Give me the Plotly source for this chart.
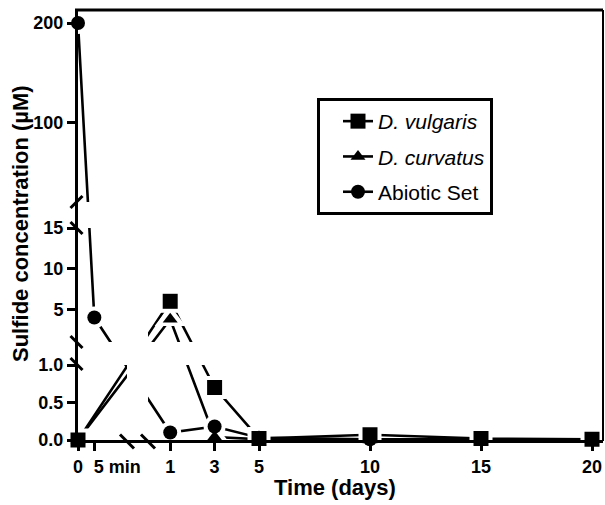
import plotly.graph_objects as go

# ---------------- data ----------------
x_tick_days = [0, 5 / 1440, 1, 3, 5, 10, 15, 20]
x_tick_text = ["0", "5 min", "1", "3", "5", "10", "15", "20"]

y_tick_vals = [0, 0.5, 1.0, 5, 10, 15, 100, 200]
y_tick_text = ["0.0", "0.5", "1.0", "5", "10", "15", "100", "200"]

vulgaris_t = [0, 1, 3, 5, 10, 15, 20]
vulgaris_y = [0.0, 6.0, 0.70, 0.02, 0.07, 0.02, 0.01]

curvatus_t = [0, 1, 3, 5, 10, 15, 20]
curvatus_y = [0.0, 3.8, 0.04, 0.01, 0.0, 0.01, 0.01]

abiotic_t = [0, 5 / 1440, 1, 3, 5, 10, 15, 20]
abiotic_y = [200, 4.0, 0.10, 0.18, 0.03, 0.01, 0.01, 0.01]

series_names = ["<i>D. vulgaris</i>", "<i>D. curvatus</i>", "Abiotic Set"]

# ---------------- broken-axis layout (display units = px inside plot) ----------------
PW, PH = 525, 430          # plot area size
ML, MT = 78, 10
MB = 505 - MT - PH
MR = 605 - ML - PW

# (data_lo, data_hi, display_lo, display_hi)
X_SEGS = [(0, 15 / 1440, 0, 49), (0, 20, 70, 514)]
Y_SEGS = [(0, 1, 0, 75), (1, 15, 98, 212), (20, 200, 238, 417)]


def seg_map(v, segs):
    for lo, hi, a, b in segs:
        if lo <= v <= hi:
            return a + (v - lo) / (hi - lo) * (b - a)
    lo, hi, a, b = segs[-1]
    return a + (v - lo) / (hi - lo) * (b - a)


def xs(ts):
    return [seg_map(t, X_SEGS) for t in ts]


def ys(vs):
    return [seg_map(v, Y_SEGS) for v in vs]


def px(u):
    return u / PW


def py(v):
    return v / PH


series = [
    (vulgaris_t, vulgaris_y, "square", 15, 23),
    (curvatus_t, curvatus_y, "triangle-up", 13, 27),
    (abiotic_t, abiotic_y, "circle", 14, 22),
]

fig = go.Figure()

# line traces (shown in legend)
for i, (t, v, sym, sz, hz) in enumerate(series):
    fig.add_trace(go.Scatter(
        x=xs(t), y=ys(v), mode="lines+markers", name=series_names[i],
        legendgroup=str(i),
        line=dict(color="black", width=2.6),
        marker=dict(symbol=sym, size=sz, color="black"),
        cliponaxis=False, hoverinfo="skip"))

# white halos around markers (gap between line and marker)
for i, (t, v, sym, sz, hz) in enumerate(series):
    fig.add_trace(go.Scatter(
        x=xs(t), y=ys(v), mode="markers", showlegend=False,
        marker=dict(symbol=sym, size=hz, color="white", line=dict(width=0)),
        cliponaxis=False, hoverinfo="skip"))

# black markers on top
for i, (t, v, sym, sz, hz) in enumerate(series):
    fig.add_trace(go.Scatter(
        x=xs(t), y=ys(v), mode="markers", showlegend=False,
        marker=dict(symbol=sym, size=sz, color="black", line=dict(width=0)),
        cliponaxis=False, hoverinfo="skip"))

shapes = []
# gap bands of the broken axes (white)
shapes.append(dict(type="rect", xref="paper", yref="paper", x0=px(49), x1=px(70),
                   y0=py(0.5), y1=py(PH - 1), fillcolor="white", line=dict(width=0), layer="above"))
shapes.append(dict(type="rect", xref="paper", yref="paper", x0=px(0.5), x1=px(PW - 1),
                   y0=py(75), y1=py(98), fillcolor="white", line=dict(width=0), layer="above"))
shapes.append(dict(type="rect", xref="paper", yref="paper", x0=px(0.5), x1=px(PW - 1),
                   y0=py(212), y1=py(238), fillcolor="white", line=dict(width=0), layer="above"))
# frame top and right
shapes.append(dict(type="line", xref="paper", yref="paper", x0=px(-3), x1=1, y0=1, y1=1,
                   line=dict(color="black", width=3), layer="above"))
shapes.append(dict(type="line", xref="paper", yref="paper", x0=1, x1=1, y0=py(-1), y1=1,
                   line=dict(color="black", width=2), layer="above"))


def brk(u, v, d, slope):
    # slope +1 => "\" , -1 => "/"
    return dict(type="line", xref="paper", yref="paper",
                x0=px(u - d), y0=py(v + d * slope), x1=px(u + d), y1=py(v - d * slope),
                line=dict(color="black", width=3), layer="above")


ax_u = -1.5
ax_v = -1.5
shapes += [brk(ax_u, 98, 6, 1), brk(ax_u, 76, 6, 1), brk(ax_u, 238, 6, -1), brk(ax_u, 212, 6, 1)]
shapes += [brk(49, ax_v, 7, 1), brk(70, ax_v, 7, 1)]

tick_font = dict(family="Arial, Liberation Sans", size=18, color="black", weight="bold")
axis_common = dict(showline=True, linewidth=3, linecolor="black", ticks="outside",
                   ticklen=8, tickwidth=3, tickcolor="black", showgrid=False,
                   zeroline=False, layer="above traces", fixedrange=True, tickangle=0,
                   tickfont=tick_font)

# the "5 min" label sits to the right of its tick, so it goes on an overlaid axis
# whose labels are shifted along the axis
five_idx = x_tick_text.index("5 min")
x_main_vals = [d for k, d in enumerate(x_tick_days) if k != five_idx]
x_main_text = [s for k, s in enumerate(x_tick_text) if k != five_idx]

fig.add_trace(go.Scatter(x=[None], y=[None], xaxis="x2", showlegend=False, hoverinfo="skip"))

fig.update_layout(
    width=605, height=505,
    margin=dict(l=ML, r=MR, t=MT, b=MB),
    paper_bgcolor="white", plot_bgcolor="white",
    xaxis=dict(range=[0, PW], tickmode="array", tickvals=xs(x_main_vals),
               ticktext=x_main_text, **axis_common),
    xaxis2=dict(range=[0, PW], tickmode="array", tickvals=xs([x_tick_days[five_idx]]),
                ticktext=[x_tick_text[five_idx]], overlaying="x", anchor="y", side="bottom",
                ticklabelshift=23, **axis_common),
    yaxis=dict(range=[0, PH], tickmode="array", tickvals=ys(y_tick_vals),
               ticktext=y_tick_text, **axis_common),
    shapes=shapes,
    showlegend=True,
    legend=dict(x=px(317 - ML), y=py(440 - 98), xanchor="left", yanchor="top",
                bordercolor="black", borderwidth=3, bgcolor="white",
                font=dict(family="Arial, Liberation Sans", size=21, color="black"),
                tracegroupgap=5, indentation=18, itemwidth=30,
                entrywidth=165, entrywidthmode="pixels"),
    annotations=[
        dict(text="Time (days)", xref="paper", yref="paper", x=px(335 - ML),
             y=py(440 - 487), xanchor="center", yanchor="middle", showarrow=False,
             font=dict(family="Arial, Liberation Sans", size=22, color="black", weight="bold")),
        dict(text="Sulfide concentration (µM)", xref="paper", yref="paper",
             x=px(21 - ML), y=py(440 - 224), xanchor="center", yanchor="middle",
             textangle=-90, showarrow=False,
             font=dict(family="Arial, Liberation Sans", size=22, color="black", weight="bold")),
    ],
)

fig.write_html("out.html")
